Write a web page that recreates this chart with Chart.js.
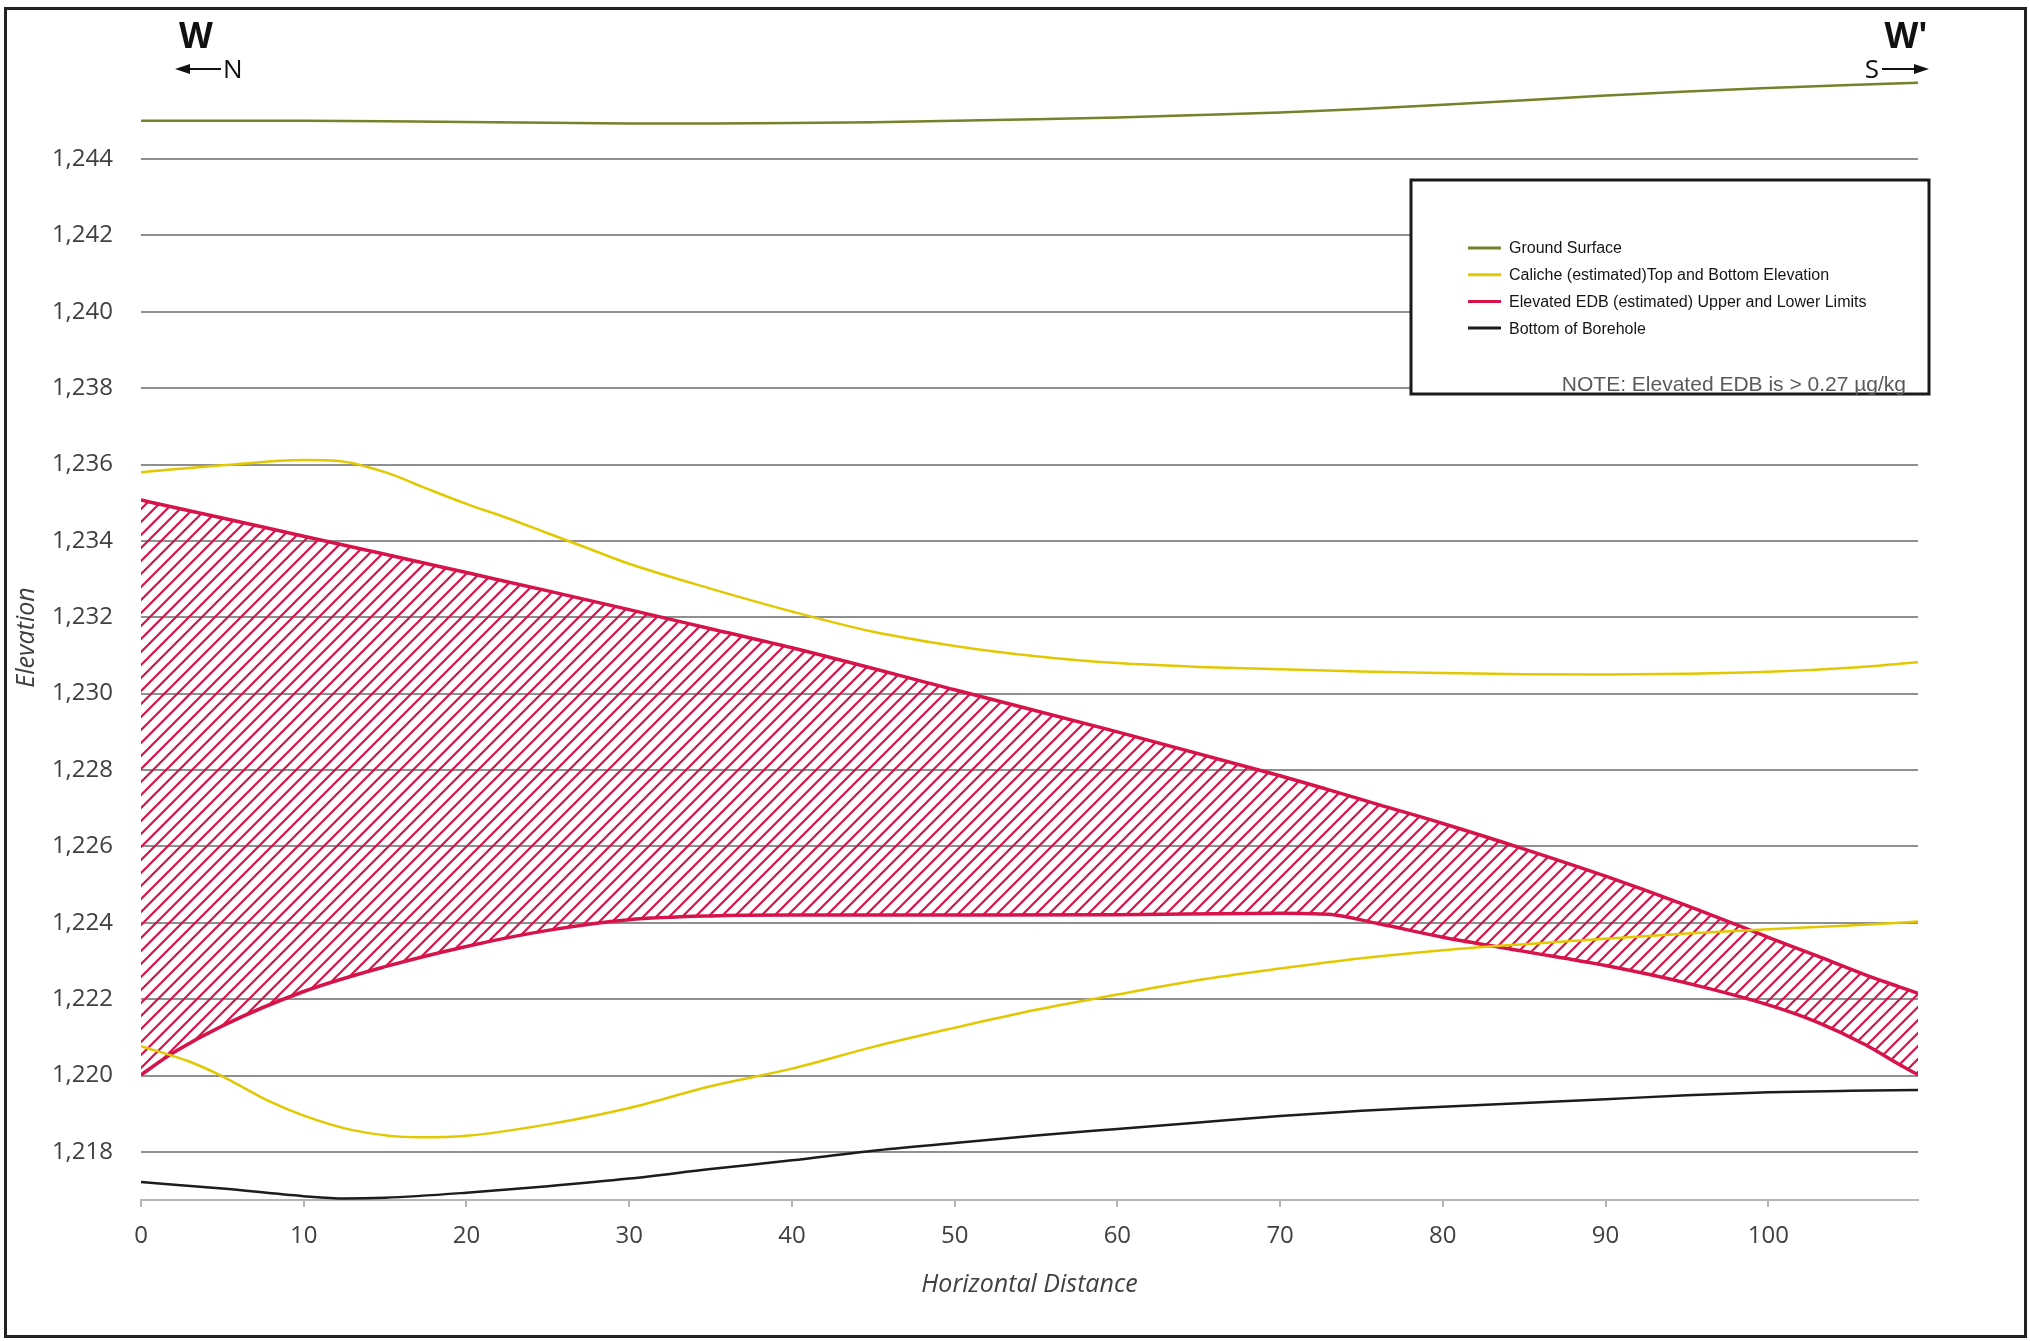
<!DOCTYPE html>
<html>
<head>
<meta charset="utf-8">
<title>Cross Section W-W'</title>
<script src="https://cdn.jsdelivr.net/npm/chart.js@4.4.1/dist/chart.umd.min.js"></script>
<style>
  html, body { margin: 0; padding: 0; background: #fff; }
  #wrap { width: 2030px; height: 1341px; }
</style>
</head>
<body>
<div id="wrap"><canvas id="section" width="2030" height="1341"></canvas></div>
<script>
// values (distance along W-W', elevation)
const groundDist = [0, 5, 10, 15, 20, 25, 30, 35, 40, 45, 50, 55, 60, 65, 70, 75, 80, 85, 90, 95, 100, 105, 109.2];
const groundElev = [1245.0, 1245.0, 1245.0, 1244.99, 1244.97, 1244.95, 1244.93, 1244.93, 1244.94, 1244.96, 1245.0, 1245.04,
  1245.09, 1245.15, 1245.22, 1245.31, 1245.42, 1245.54, 1245.66, 1245.77, 1245.86, 1245.94, 1246.0];

const calicheTopDist = [0, 5, 10, 12, 15, 17.5, 20, 22.5, 25, 27.5, 30, 35, 40, 45, 50, 55, 60, 65, 70, 75, 80, 85, 90, 95, 100, 105, 109.2];
const calicheTopElev = [1235.8, 1235.98, 1236.12, 1236.1, 1235.8, 1235.38, 1234.97, 1234.6, 1234.2, 1233.8, 1233.4,
  1232.75, 1232.15, 1231.62, 1231.25, 1230.98, 1230.8, 1230.7, 1230.64, 1230.58, 1230.54, 1230.51, 1230.5, 1230.52,
  1230.57, 1230.68, 1230.82];

const calicheBotDist = [0, 3, 5, 8, 10, 13, 17, 20, 25, 30, 35, 40, 45, 50, 55, 60, 65, 70, 75, 80, 85, 90, 95, 100, 105, 109.2];
const calicheBotElev = [1220.77, 1220.36, 1219.98, 1219.3, 1218.95, 1218.57, 1218.38, 1218.42, 1218.72, 1219.15, 1219.72,
  1220.18, 1220.75, 1221.25, 1221.72, 1222.12, 1222.5, 1222.8, 1223.07, 1223.28, 1223.44, 1223.58, 1223.72, 1223.83,
  1223.93, 1224.03];

const edbDist = [0, 2, 5, 10, 15, 20, 25, 30, 35, 40, 50, 60, 70, 73, 76, 80, 85, 90, 95, 100, 103, 106, 108, 109.2];
const edbUpper = [1235.07, 1234.88, 1234.6, 1234.12, 1233.65, 1233.17, 1232.69, 1232.2, 1231.7, 1231.2, 1230.1, 1229.0,
  1227.85, 1227.48, 1227.1, 1226.6, 1225.93, 1225.22, 1224.45, 1223.62, 1223.13, 1222.63, 1222.33, 1222.15];
const edbLower = [1220.02, 1220.6, 1221.3, 1222.2, 1222.85, 1223.38, 1223.8, 1224.08, 1224.18, 1224.2, 1224.2, 1224.21,
  1224.25, 1224.22, 1223.98, 1223.62, 1223.25, 1222.88, 1222.42, 1221.85, 1221.4, 1220.8, 1220.3, 1220.02];

const boreDist = [0, 5, 10, 12.5, 15, 20, 25, 30, 35, 40, 45, 50, 55, 60, 65, 70, 75, 80, 85, 90, 95, 100, 105, 109.2];
const boreElev = [1217.21, 1217.04, 1216.84, 1216.78, 1216.8, 1216.93, 1217.1, 1217.3, 1217.55, 1217.78, 1218.03, 1218.23,
  1218.43, 1218.6, 1218.77, 1218.94, 1219.08, 1219.18, 1219.28, 1219.38, 1219.48, 1219.56, 1219.6, 1219.62];

const xTicks = [0, 10, 20, 30, 40, 50, 60, 70, 80, 90, 100];
const yTicks = [1218, 1220, 1222, 1224, 1226, 1228, 1230, 1232, 1234, 1236, 1238, 1240, 1242, 1244];

const legendLabels = ['Ground Surface', 'Caliche (estimated)Top and Bottom Elevation',
  'Elevated EDB (estimated) Upper and Lower Limits', 'Bottom of Borehole'];

const GROUND = '#77802b';
const CALICHE = '#e2c800';
const EDB = '#d7134b';
const BORE = '#1c1c1c';
const legendColors = [GROUND, CALICHE, EDB, BORE];

const pts = (xs, ys) => xs.map((x, i) => ({ x, y: ys[i] }));

function hatch(color) {
    const n = 13;
    const c = document.createElement('canvas');
    c.width = n;
    c.height = n;
    const g = c.getContext('2d');
    g.strokeStyle = color;
    g.lineWidth = 2.2;
    g.beginPath();
    g.moveTo(-3, n + 3); g.lineTo(n + 3, -3);
    g.moveTo(-n, n); g.lineTo(n, -n);
    g.moveTo(0, 2 * n); g.lineTo(2 * n, 0);
    g.stroke();
    return g.createPattern(c, 'repeat');
}

function line(label, data, color, width, extra) {
    return Object.assign({
        label, data,
        borderColor: color,
        borderWidth: width,
        showLine: true,
        pointRadius: 0,
        fill: false,
        cubicInterpolationMode: 'monotone'
    }, extra || {});
}

// legend box, W / W' markers and the outer frame
const overlay = {
    id: 'overlay',
    afterDraw(chart) {
        const ctx = chart.ctx;
        ctx.save();

        ctx.fillStyle = '#fff';
        ctx.fillRect(1411, 180, 518, 214);
        ctx.strokeStyle = '#1a1a1a';
        ctx.lineWidth = 3;
        ctx.strokeRect(1411, 180, 518, 214);

        ctx.font = '16px "Liberation Sans", Arial, sans-serif';
        ctx.textBaseline = 'middle';
        ctx.textAlign = 'left';
        legendLabels.forEach((txt, i) => {
            const y = 248 + i * 26.7;
            ctx.strokeStyle = legendColors[i];
            ctx.lineWidth = 3;
            ctx.beginPath();
            ctx.moveTo(1468, y);
            ctx.lineTo(1501, y);
            ctx.stroke();
            ctx.fillStyle = '#151515';
            ctx.fillText(txt, 1509, y + 1);
        });

        ctx.font = '21px "Liberation Sans", Arial, sans-serif';
        ctx.fillStyle = '#5a5a5a';
        ctx.textAlign = 'right';
        ctx.textBaseline = 'alphabetic';
        ctx.fillText('NOTE: Elevated EDB is > 0.27 \u00b5g/kg', 1906, 391);

        // section ends
        ctx.fillStyle = '#111';
        ctx.font = 'bold 35px "Open Sans", sans-serif';
        ctx.textAlign = 'center';
        ctx.fillText('W', 196, 48);
        ctx.fillText("W'", 1906, 48);

        ctx.font = '26px "Open Sans", sans-serif';
        ctx.textAlign = 'left';
        ctx.fillText('N', 223, 78);
        ctx.textAlign = 'right';
        ctx.fillText('S', 1879, 78);

        ctx.strokeStyle = '#111';
        ctx.lineWidth = 2;
        ctx.beginPath();
        ctx.moveTo(188, 69); ctx.lineTo(221, 69);
        ctx.moveTo(1882, 69); ctx.lineTo(1916, 69);
        ctx.stroke();
        ctx.beginPath();
        ctx.moveTo(175, 69); ctx.lineTo(190, 64); ctx.lineTo(190, 74); ctx.closePath();
        ctx.moveTo(1929, 69); ctx.lineTo(1914, 64); ctx.lineTo(1914, 74); ctx.closePath();
        ctx.fill();

        ctx.strokeStyle = '#222';
        ctx.lineWidth = 3;
        ctx.strokeRect(5.5, 8.5, 2020, 1328);
        ctx.restore();
    }
};

const tickFont = { family: 'Open Sans', size: 24 };
const titleFont = { family: 'Open Sans', size: 25, style: 'italic' };

new Chart(document.getElementById('section'), {
    type: 'scatter',
    data: {
        datasets: [
            line('Ground Surface', pts(groundDist, groundElev), GROUND, 2.5),
            line('Caliche Top', pts(calicheTopDist, calicheTopElev), CALICHE, 2.5),
            line('Caliche Bottom', pts(calicheBotDist, calicheBotElev), CALICHE, 2.5),
            line('Bottom of Borehole', pts(boreDist, boreElev), BORE, 2.5),
            line('EDB Upper', pts(edbDist, edbUpper), EDB, 3.5),
            line('EDB Lower', pts(edbDist, edbLower), EDB, 3.5, { fill: '-1', backgroundColor: hatch(EDB) })
        ]
    },
    options: {
        responsive: false,
        animation: false,
        devicePixelRatio: 1,
        layout: { padding: { top: 75, right: 112, left: 0, bottom: 0 } },
        plugins: {
            legend: { display: false },
            tooltip: { enabled: false },
            filler: { propagate: false }
        },
        scales: {
            x: {
                type: 'linear',
                min: 0,
                max: 109.2,
                afterBuildTicks: s => { s.ticks = xTicks.map(v => ({ value: v })); },
                afterFit: s => { s.height = 141; },
                grid: { drawOnChartArea: false, drawTicks: true, tickLength: 7, color: '#b5b5b5', lineWidth: 2 },
                border: { display: true, color: '#b5b5b5', width: 2 },
                ticks: { padding: 15, color: '#404040', font: tickFont, maxRotation: 0 },
                title: {
                    display: true, text: 'Horizontal Distance', color: '#404040', font: titleFont,
                    padding: { top: 0, bottom: 41 }
                }
            },
            y: {
                type: 'linear',
                min: 1216.74,
                max: 1246.2,
                afterBuildTicks: s => { s.ticks = yTicks.map(v => ({ value: v })); },
                afterFit: s => { s.width = 141; },
                grid: { color: '#8f8f8f', lineWidth: 2, drawTicks: false },
                border: { display: false },
                ticks: {
                    padding: 28, color: '#404040', font: tickFont,
                    callback: v => v.toLocaleString('en-US')
                },
                title: {
                    display: true, text: 'Elevation', color: '#404040', font: titleFont,
                    padding: { top: 12, bottom: 0 }
                }
            }
        }
    },
    plugins: [overlay]
});
</script>
</body>
</html>
